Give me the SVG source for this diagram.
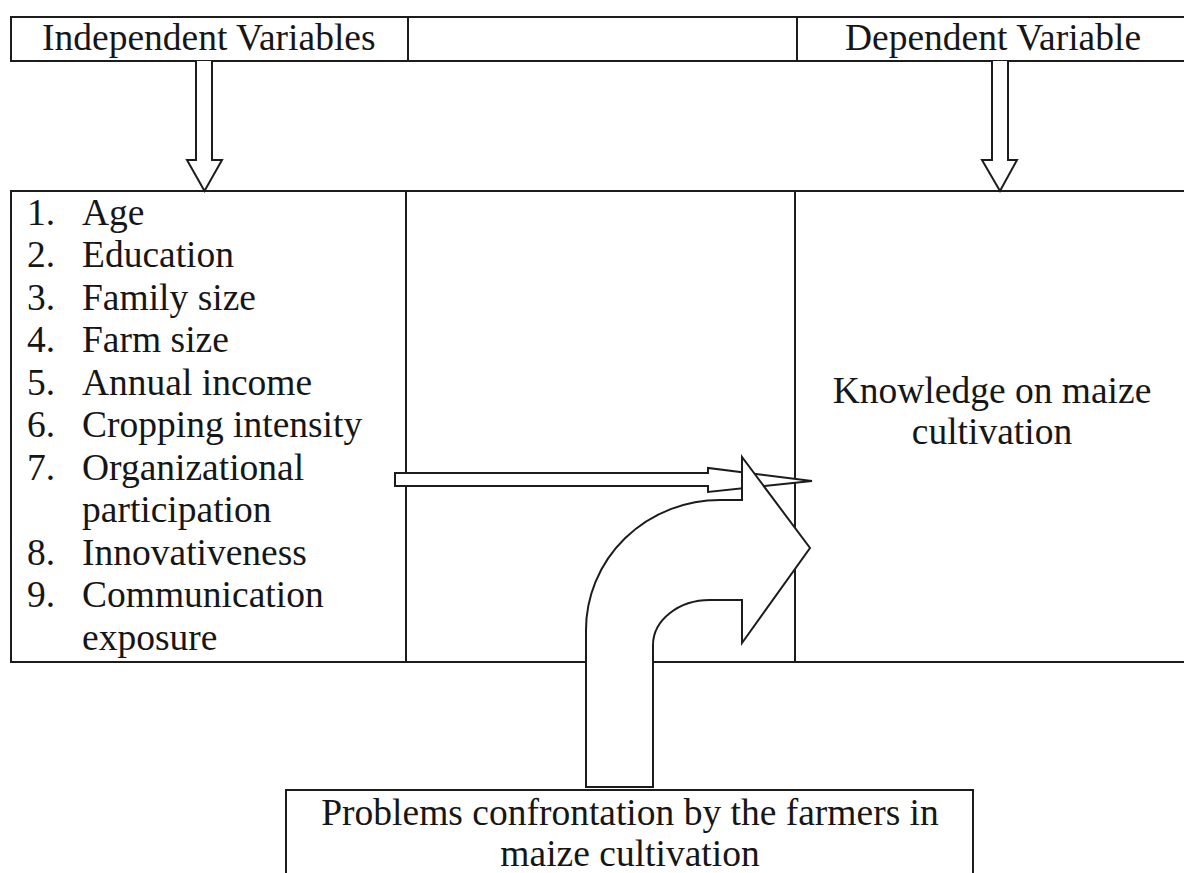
<svg xmlns="http://www.w3.org/2000/svg" width="1184" height="873" viewBox="0 0 1184 873">
<style>
.cell{fill:#fff;stroke:#1c1c1c;stroke-width:2}
.t{font-family:'Liberation Serif','Times New Roman',Tinos,Times,'DejaVu Serif',serif;font-size:37.5px;fill:#161616}
.c{text-anchor:middle}
.arr{fill:#fff;stroke:#1c1c1c;stroke-width:2;stroke-linejoin:miter}
</style>
<rect width="1184" height="873" fill="#fff"/>
<g id="header-independent">
<rect class="cell" x="11" y="17" width="397" height="44"/>
<text class="t" x="42" y="50">Independent Variables</text>
</g>
<g id="header-middle">
<rect class="cell" x="408" y="17" width="389" height="44"/>
</g>
<g id="header-dependent">
<rect class="cell" x="797" y="17" width="400" height="44"/>
<text class="t" x="845" y="50">Dependent Variable</text>
</g>
<g id="box-independent">
<rect class="cell" x="11" y="191" width="395" height="471"/>
<text class="t" x="27" y="225">1.</text><text class="t" x="82" y="225">Age</text>
<text class="t" x="27" y="267">2.</text><text class="t" x="82" y="267">Education</text>
<text class="t" x="27" y="310">3.</text><text class="t" x="82" y="310">Family size</text>
<text class="t" x="27" y="352">4.</text><text class="t" x="82" y="352">Farm size</text>
<text class="t" x="27" y="395">5.</text><text class="t" x="82" y="395">Annual income</text>
<text class="t" x="27" y="437">6.</text><text class="t" x="82" y="437">Cropping intensity</text>
<text class="t" x="27" y="480">7.</text><text class="t" x="82" y="480">Organizational</text>
<text class="t" x="82" y="522">participation</text>
<text class="t" x="27" y="565">8.</text><text class="t" x="82" y="565">Innovativeness</text>
<text class="t" x="27" y="607">9.</text><text class="t" x="82" y="607">Communication</text>
<text class="t" x="82" y="650">exposure</text>
</g>
<g id="box-middle">
<rect class="cell" x="406" y="191" width="389" height="471"/>
</g>
<g id="box-dependent">
<rect class="cell" x="795" y="191" width="402" height="471"/>
<text class="t c" x="992" y="403">Knowledge on maize</text>
<text class="t c" x="992" y="444">cultivation</text>
</g>
<g id="box-problems">
<rect class="cell" x="286" y="790" width="687" height="110"/>
<text class="t c" x="630" y="825">Problems confrontation by the farmers in</text>
<text class="t c" x="630" y="866">maize cultivation</text>
</g>
<g id="connectors">
<path class="arr" d="M196,61 V160 H187 L204.5,191 L222,160 H212 V61"/>
<path class="arr" d="M992,61 V160 H982 L1000,191 L1017,160 H1008 V61"/>
<path class="arr" d="M395,473 H708 V468 L812,481 L708,492 V486 H395 Z"/>
<path class="arr" d="M586,787 V630 A134,130 0 0 1 720,500 H742 V457 L810,548 L742,643 V600 H710 A57,45 0 0 0 653,645 V787 Z"/>
</g>
</svg>
